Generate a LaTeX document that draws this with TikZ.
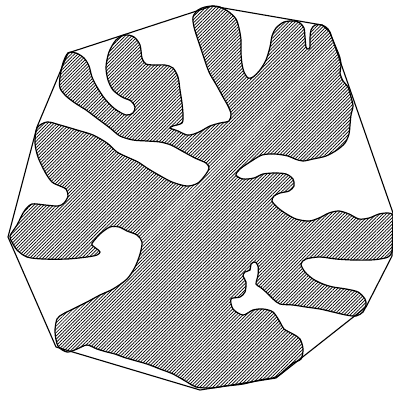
\documentclass[tikz,border=0pt]{standalone}
\usetikzlibrary{patterns.meta}
\begin{document}
\begin{tikzpicture}[x=1pt,y=-1pt,
  hull/.style={draw=black,line width=1.1pt,line join=round},
  blob/.style={draw=black,line width=1.2pt,pattern={Lines[angle=45,distance=2.3pt,line width=0.7pt]},pattern color=black}]
\useasboundingbox (0,0) rectangle (393,392);
\coordinate (h1) at (68,53);
\coordinate (h2) at (212,6);
\coordinate (h3) at (322,25);
\coordinate (h4) at (330,32);
\coordinate (h5) at (393,213);
\coordinate (h6) at (392,256);
\coordinate (h7) at (366,307);
\coordinate (h8) at (276,378);
\coordinate (h9) at (200,390);
\coordinate (h10) at (56,347);
\coordinate (h11) at (8,237);
\coordinate (h12) at (37,127);
\draw[blob] plot[smooth cycle,tension=0.5] coordinates {
(68,53)(76,53)(84,58)(89,66)(92,77)(97,87)(105,99)(115,109)(126,115)(133,113)(135,107)(131,101)(122,97)(113,90)(108,80)(106,67)(109,52)(116,40)(125,35)(134,37)(140,45)(142,58)(146,64)(155,65)(165,65)(173,68)(178,77)(180,90)(182,103)(183,115)(182,123)
(173,126)(170,128)(178,131)(187,135)(194,134)(201,131)(210,126)(220,123)(229,121)(231,114)
(228,106)(223,97)(217,86)(209,72)(203,55)(198,40)(194,27)(193,17)(198,10)(205,7)(213,6)(220,7)(229,12)(236,19)(239,28)(241,40)(241,53)(242,64)(244,72)(248,78)
(253,77)(260,70)(266,60)(270,47)(272,36)(276,28)(284,22)(294,21)(300,23)(304,28)(305,37)(306,47)(308,49)(310,47)(310,38)(311,30)(315,25)(322,25)(328,29)(332,38)(337,50)(340,58)(341,66)(340,73)(343,81)(348,87)(351,97)(353,106)(351,115)(350,125)(349,134)(345,143)(337,150)(326,156)(313,159)(303,161)(295,159)(288,156)(275,154)(262,155)(250,162)(240,169)(236,175)(243,179)(254,178)(263,174)(275,173)(286,174)(293,179)(294,186)(289,191)(280,193)(274,196)(272,201)(277,207)(285,213)(296,219)(309,221)(319,218)(329,213)(339,211)(349,214)(359,219)(369,218)(379,214)(388,213)(393,215)
(393,225)(393,240)(392,252)(388,257)
(380,259)(370,260)(353,260)(336,259)(320,257)(306,259)(301,264)(305,272)(313,279)(323,284)(333,287)(346,289)(358,292)(365,299)(366,305)(363,312)(356,316)(346,315)(333,312)(320,309)(306,307)(293,305)(280,304)(273,299)(266,292)(260,287)(256,284)(258,275)(258,266)(255,262)(251,264)(250,270)(245,272)(243,276)(246,282)(245,292)(240,297)(231,299)(233,309)(243,315)(253,310)(263,309)(273,312)(280,322)(284,329)(293,334)(300,339)(303,349)(301,359)(293,363)(286,369)(276,377)(260,380)(243,384)(226,386)(211,388)(196,387)(187,382)(173,374)(160,369)(147,364)(133,360)(123,357)(115,354)(107,352)(97,349)(87,345)(77,349)(67,352)(58,346)(55,332)(57,319)(63,314)(73,309)(87,302)(100,295)(113,289)(127,279)(135,267)(140,254)(142,242)(137,235)(127,231)(119,227)(110,227)(100,234)(93,242)(92,245)(97,249)(100,252)(97,255)(87,257)(67,259)(43,259)(27,257)(17,250)(12,242)(10,236)(17,225)(21,217)(25,210)(32,204)(45,205)(58,206)(64,203)(68,196)(66,189)(60,186)(52,182)(45,172)(38,157)(35,143)(37,128)(47,122)(60,125)(77,130)(93,135)(107,143)(117,152)(127,157)(138,162)(147,168)(157,174)(172,182)(187,186)(198,183)(206,174)(209,168)(206,163)(195,158)(182,151)(171,145)(160,142)(147,141)(133,140)(120,136)(110,128)(98,119)(86,110)(75,103)(66,96)(60,88)(60,77)(63,63)
};
\draw[hull] (h1) -- (h2) -- (h3) -- (h4) -- (h5) -- (h6) -- (h7) -- (h8) -- (h9) -- (h10) -- (h11) -- (h12) -- cycle;
\end{tikzpicture}
\end{document}
